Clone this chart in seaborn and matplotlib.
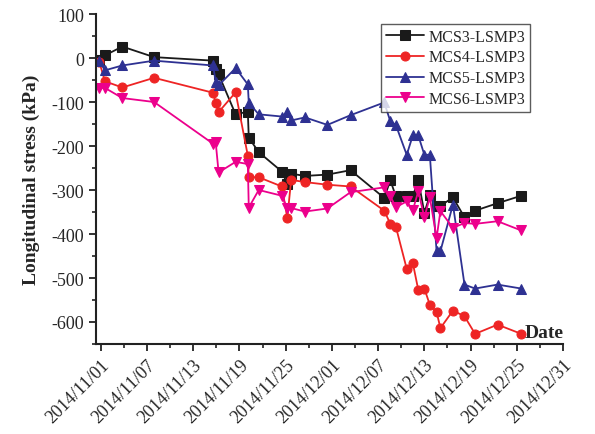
import pandas as pd
import matplotlib
matplotlib.use("Agg")
import matplotlib.pyplot as plt
import matplotlib.dates as mdates
from matplotlib.ticker import MultipleLocator
import seaborn as sns

# measurement times
times = ["2014-10-31 19:00", "2014-11-01 13:00", "2014-11-03 19:00", "2014-11-07 22:00",
         "2014-11-15 14:00", "2014-11-15 22:00", "2014-11-16 07:00", "2014-11-18 12:00",
         "2014-11-20 02:00", "2014-11-20 05:00", "2014-11-21 12:00", "2014-11-24 12:00",
         "2014-11-25 05:00", "2014-11-25 17:00", "2014-11-27 12:00", "2014-11-30 10:00",
         "2014-12-03 10:00", "2014-12-07 19:00", "2014-12-08 14:00", "2014-12-09 07:00",
         "2014-12-10 17:00", "2014-12-11 12:00", "2014-12-12 05:00", "2014-12-13 00:00",
         "2014-12-13 17:00", "2014-12-14 14:00", "2014-12-15 02:00", "2014-12-16 17:00",
         "2014-12-18 05:00", "2014-12-19 14:00", "2014-12-22 12:00", "2014-12-25 14:00"]

mcs3 = [-5, 6, 26, 2, -6, -25, -37, -128, -122, -181, -214, -258, -286, -263, -268, -265,
        -255, -318, -278, -314, -314, -314, -277, -352, -312, -336, -336, -317, -362, -347,
        -330, -313]
mcs4 = [-8, -53, -67, -45, -79, -103, -123, -78, -222, -271, -271, -292, -364, -277, -282,
        -288, -292, -347, -377, -383, -479, -466, -527, -524, -561, -577, -614, -574, -587,
        -627, -606, -627]
mcs5 = [-7, -28, -17, -6, -17, -55, -62, -23, -60, -102, -128, -133, -123, -142, -135, -152,
        -130, -101, -144, -152, -220, -176, -176, -220, -220, -439, -439, -333, -515, -524,
        -515, -524]
mcs6 = [-68, -68, -91, -100, -195, -192, -260, -236, -241, -340, -300, -313, -342, -341, -349,
        -342, -305, -294, -314, -339, -326, -346, -303, -362, -317, -409, -348, -386, -375,
        -377, -371, -392]

names = ["MCS3-LSMP3", "MCS4-LSMP3", "MCS5-LSMP3", "MCS6-LSMP3"]
colors = ["#1a1a1a", "#ee2424", "#2e3192", "#ec008c"]
markers = ["s", "o", "^", "v"]

sns.set_style("ticks")
plt.rcParams['font.family'] = ['Liberation Serif', 'DejaVu Serif']
plt.rcParams['axes.unicode_minus'] = False

t = pd.to_datetime(times)
fig = plt.figure(figsize=(5.95, 4.35), dpi=100)
ax = fig.add_axes([0.1613, 0.2069, 0.785, 0.7586])

for name, vals, c, m in zip(names, [mcs3, mcs4, mcs5, mcs6], colors, markers):
    sns.lineplot(x=t, y=vals, ax=ax, color=c, marker=m, markersize=6.5,
                 markeredgecolor=c, linewidth=1.3, label=name, sort=False)

ax.set_xlim(pd.Timestamp("2014-11-01") - pd.Timedelta(hours=15), pd.Timestamp("2014-12-31"))
ax.set_ylim(-650, 100)
ax.xaxis.set_major_locator(mdates.DayLocator(bymonthday=[1, 7, 13, 19, 25, 31]))
ax.xaxis.set_major_formatter(mdates.DateFormatter('%Y/%m/%d'))
ax.xaxis.set_minor_locator(mdates.DayLocator(bymonthday=[4, 10, 16, 22, 28]))
ax.yaxis.set_major_locator(MultipleLocator(100))
ax.yaxis.set_minor_locator(MultipleLocator(50))

for lab in ax.get_xticklabels():
    lab.set_rotation(45)
    lab.set_ha('right')
    lab.set_rotation_mode('anchor')
ax.tick_params(axis='both', which='major', labelsize=13, direction='out', length=5, width=1.3, color='#222222')
ax.tick_params(axis='both', which='minor', direction='out', length=3, width=1.2, color='#222222')

sns.despine(ax=ax)
for s in ["left", "bottom"]:
    ax.spines[s].set_linewidth(1.5)
    ax.spines[s].set_color('#222222')

ax.set_xlabel("")
ax.set_ylabel("Longitudinal stress (kPa)", fontsize=14, fontweight='bold', labelpad=8)
ax.text(0.96, 0.035, "Date", transform=ax.transAxes, fontsize=14, fontweight='bold',
        ha='center', va='center')

leg = ax.legend(loc='upper right', bbox_to_anchor=(0.93, 0.97), fontsize=11.5, frameon=True,
                fancybox=False, handlelength=2.4, borderpad=0.3, labelspacing=0.3,
                handletextpad=0.3, borderaxespad=0)
leg.get_frame().set_edgecolor('#333333')
leg.get_frame().set_linewidth(1.0)

fig.savefig("out.png", dpi=100)
